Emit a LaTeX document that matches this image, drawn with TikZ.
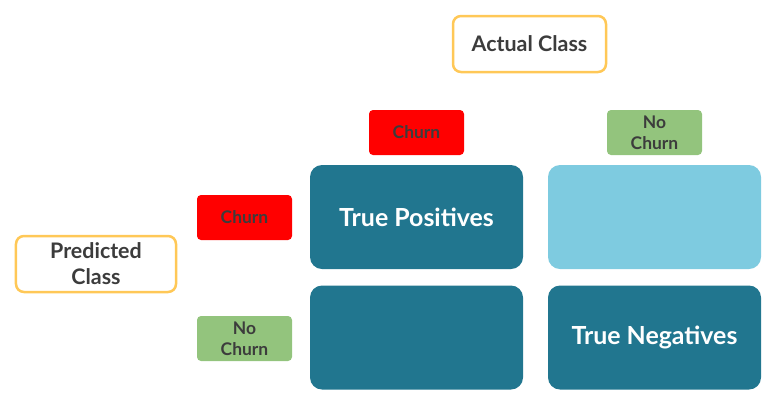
\documentclass[tikz,border=0pt]{standalone}
\usepackage{fontspec}
\setmainfont{Lato}
\usepackage{xcolor}
\usepackage{tikz}
\usetikzlibrary{positioning}
\definecolor{cellteal}{HTML}{21768F}
\definecolor{celllight}{HTML}{7ECBE0}
\definecolor{churnred}{HTML}{FF0000}
\definecolor{nochurngreen}{HTML}{93C47D}
\definecolor{classorange}{HTML}{FFC857}
\definecolor{textgray}{HTML}{3C3C3C}

\begin{document}
\begin{tikzpicture}[x=1bp, y=-1bp, every node/.style={font=\bfseries, inner sep=0pt, align=center}]
				\tikzset{
					cell/.style={rounded corners=12bp, minimum width=213bp, minimum height=104bp, text=white, font=\bfseries\fontsize{25}{28}\selectfont},
					tag/.style={rounded corners=4bp, minimum width=95bp, minimum height=45bp, text=textgray, font=\bfseries\fontsize{17.5}{21}\selectfont},
					classbox/.style={draw=classorange, line width=2.5bp, rounded corners=8bp, fill=white, text=textgray, font=\bfseries\fontsize{21.5}{26}\selectfont}
				}
				\useasboundingbox (0,0) rectangle (780,415);
				
				\node [classbox, minimum width=153bp, minimum height=56bp] (actual) at (529.5,44) {Actual Class};
				\node [classbox, minimum width=160bp, minimum height=56bp] (predicted) at (96,264) {Predicted\\Class};
				
				\node [tag, fill=churnred] (colchurn) at (416.5,132.5) {Churn};
				\node [tag, fill=nochurngreen] (colno) at (654.5,132.5) {No\\Churn};
				\node [tag, fill=churnred] (rowchurn) at (244.5,217.5) {Churn};
				\node [tag, fill=nochurngreen] (rowno) at (244.5,338.5) {No\\Churn};
				
				\node [cell, fill=cellteal] (tp) at (416.5,217) {True Positives};
				\node [cell, fill=celllight] (fp) at (654.5,217) {};
				\node [cell, fill=cellteal] (fn) at (416.5,337.5) {};
				\node [cell, fill=cellteal] (tn) at (654.5,337.5) {True Negatives};
				\end{tikzpicture}
\end{document}
